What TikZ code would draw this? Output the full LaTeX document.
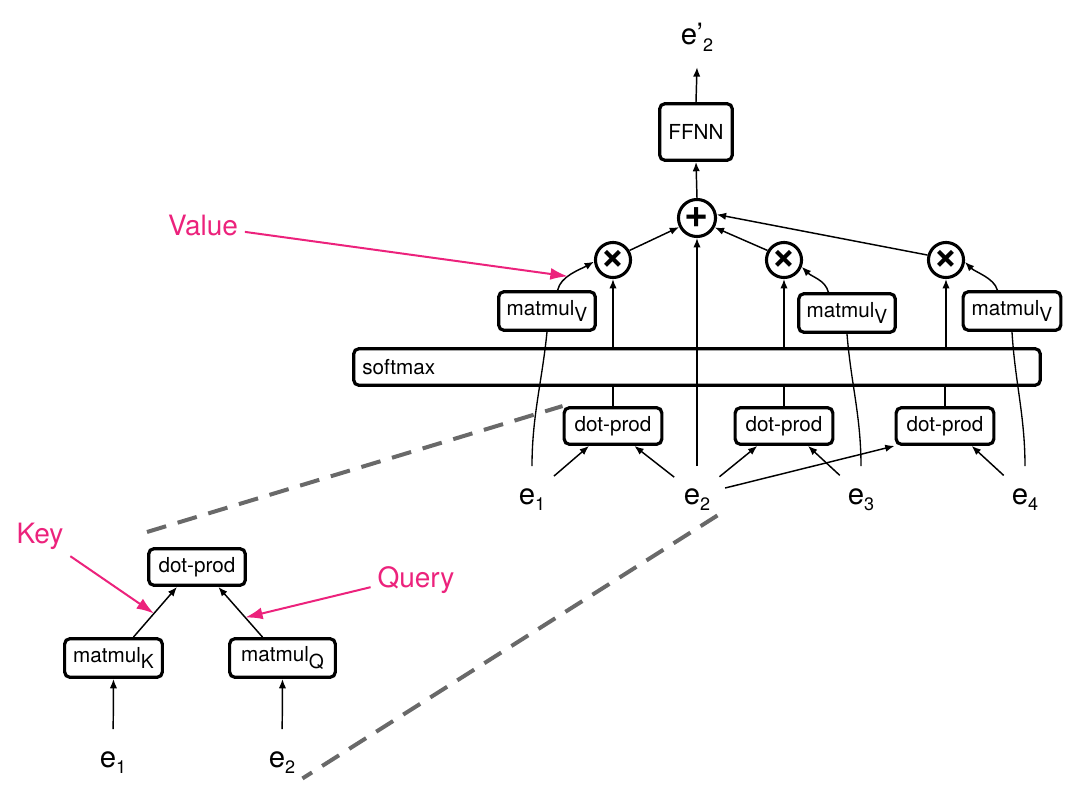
\documentclass[tikz,border=0pt]{standalone}
\usepackage{fontspec}
\setmainfont{TeX Gyre Heros}
\usetikzlibrary{arrows.meta,calc}
\definecolor{pinkc}{RGB}{236,34,124}
\definecolor{dashc}{RGB}{105,105,105}
\newcommand\esub[1]{\raisebox{-5pt}{\fontsize{13.5}{13.5}\selectfont #1}}
\newcommand\msub[1]{\raisebox{-5pt}{\fontsize{14.5}{14.5}\selectfont #1}}
\newcommand\opsym[1]{\makebox[0pt]{\raisebox{-0.5\height}[0pt][0pt]{#1}}}
\begin{document}
\begin{tikzpicture}[x=0.75pt,y=-0.75pt,
  box/.style={draw, line width=2.4pt, rounded corners=4pt, fill=white, inner xsep=3pt, inner ysep=0pt,
    font=\fontsize{15.5}{15.5}\selectfont},
  opnode/.style={circle, draw, line width=2.3pt, fill=white, inner sep=0pt},
  elab/.style={circle, minimum size=43pt, inner sep=0pt, font=\fontsize{22}{22}\selectfont,
    text height=16pt, text depth=2.5pt},
  lab/.style={text=pinkc, inner sep=5pt, font=\fontsize{21}{21}\selectfont},
  arr/.style={line width=1.1pt, -{Latex[length=7pt,width=5.5pt]}},
  conn/.style={line width=1pt},
  parr/.style={draw=pinkc, line width=1.5pt, -{Latex[length=13pt,width=9pt]}},
  zoomline/.style={draw=dashc, line width=3pt, dash pattern=on 15pt off 9pt}
]
\useasboundingbox (0,0) rectangle (1090,795);

% ---------- top graph ----------
\node[anchor=base, inner sep=0pt, font=\fontsize{22}{22}\selectfont, text depth=16.5pt] (ep) at (697,45) {e’\esub{2}};
\node[box, minimum width=54.5pt, minimum height=42.5pt] (ffnn) at (696,132) {FFNN};
\node[opnode, minimum size=27.8pt, font=\bfseries\fontsize{31}{31}\selectfont] (plus) at (697,218) {\opsym{+}};
\node[opnode, minimum size=26.3pt, font=\bfseries\fontsize{32}{32}\selectfont] (x1) at (613,260) {\opsym{×}};
\node[opnode, minimum size=26.3pt, font=\bfseries\fontsize{32}{32}\selectfont] (x2) at (784,260) {\opsym{×}};
\node[opnode, minimum size=26.3pt, font=\bfseries\fontsize{32}{32}\selectfont] (x3) at (946,260) {\opsym{×}};

\node[box, minimum width=72.5pt, minimum height=29pt] (m1) at (547,311) {matmul\msub{V}};
\node[box, minimum width=72.5pt, minimum height=29pt] (m2) at (847,313) {matmul\msub{V}};
\node[box, minimum width=73.3pt, minimum height=29pt] (m3) at (1012,311) {matmul\msub{V}};

\node[box, fill=none, minimum width=515pt, minimum height=27.5pt, text width=502pt, align=left] (sm) at (697,367) {softmax};

\node[box, minimum width=73.3pt, minimum height=27.5pt] (d1) at (613,426) {dot-prod};
\node[box, minimum width=73.3pt, minimum height=27.5pt] (d2) at (784,426) {dot-prod};
\node[box, minimum width=73.3pt, minimum height=27.5pt] (d3) at (945,426) {dot-prod};

\node[elab] (e1) at (532,495) {e\esub{1}};
\node[elab] (e2) at (697,495) {e\esub{2}};
\node[elab] (e3) at (861,495) {e\esub{3}};
\node[elab] (e4) at (1025,495) {e\esub{4}};

% ---------- bottom-left graph ----------
\node[box, minimum width=72.5pt, minimum height=27.5pt] (bd) at (197,567) {dot-prod};
\node[box, minimum width=73.3pt, minimum height=29pt] (mk) at (113.5,658) {matmul\msub{K}};
\node[box, minimum width=79.3pt, minimum height=29pt] (mq) at (282.5,658) {matmul\msub{Q}};
\node[elab] (be1) at (113,758) {e\esub{1}};
\node[elab] (be2) at (282,758) {e\esub{2}};

% ---------- labels ----------
\node[lab] (val) at (203,226) {Value};
\node[lab] (key) at (40,536) {Key};
\node[lab] (query) at (416,580) {Query};

% ---------- zoom lines ----------
\coordinate (zu) at (147,532);
\draw[zoomline] (zu) -- (d1.north west);
\draw[zoomline] (e2.south east) -- (be2.south east);

% ---------- connectors, top ----------
\draw[arr] (ffnn.north) -- (ep.south);
\draw[arr] (plus.north) -- (ffnn.south);
\draw[arr] (e2.north) -- (plus.south);
\draw[arr] (x1.30) -- (plus.207);
\draw[arr] (x2.150) -- (plus.-28);
\draw[arr] (x3.165) -- (plus.10);

\foreach \i in {1,2,3}{
  \draw[arr] (x\i.south |- sm.north) -- (x\i.south);
  \draw[conn] (d\i.north) -- (d\i.north |- sm.south);
}

\draw[arr] ([xshift=8pt]m1.north) .. controls +(3,-14) and +(-14,8) .. node[pos=0.4, coordinate] (vt) {} (x1.185);
\draw[arr] ([xshift=-14pt]m2.north) .. controls +(-3,-12) and +(10,10) .. (x2.-21);
\draw[arr] ([xshift=-11pt]m3.north) .. controls +(-3,-12) and +(10,10) .. (x3.-6);

\draw[conn] (m1.south) .. controls +(-5,50) and +(0,-50) .. (e1.north);
\draw[conn] (m2.south) .. controls +(4,50) and +(0,-50) .. (e3.north);
\draw[conn] (m3.south) .. controls +(3,50) and +(0,-50) .. (e4.north);

\draw[arr] (e1) -- ([xshift=-18pt]d1.south);
\draw[arr] (e2) -- ([xshift=16pt]d1.south);
\draw[arr] (e2) -- ([xshift=-20pt]d2.south);
\draw[arr] (e3) -- ([xshift=18pt]d2.south);
\draw[arr] (e2) -- (d3.south west);
\draw[arr] (e4) -- ([xshift=20pt]d3.south);

% ---------- connectors, bottom-left ----------
\draw[arr] (be1) -- (mk.south);
\draw[arr] (be2) -- (mq.south);
\draw[arr] ([xshift=15pt]mk.north) -- node[pos=0.47, coordinate] (kt) {} ([xshift=-15pt]bd.south);
\draw[arr] ([xshift=-15pt]mq.north) -- node[pos=0.39, coordinate] (qt) {} ([xshift=16pt]bd.south);

% ---------- pink arrows ----------
\draw[parr] (val.-8) -- (vt);
\draw[parr] (key.south east) -- (kt);
\draw[parr] (query.189) -- (qt);
\end{tikzpicture}
\end{document}
